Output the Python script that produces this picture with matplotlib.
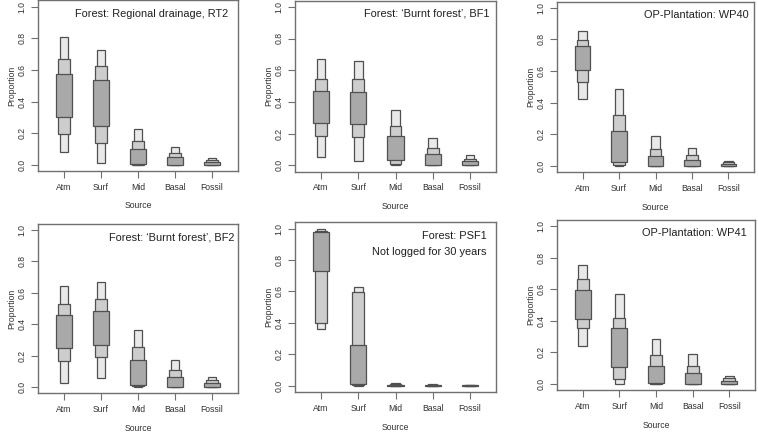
import matplotlib
matplotlib.use("Agg")
import matplotlib.pyplot as plt
import numpy as np

plt.rcParams['font.family'] = ['Liberation Sans', 'DejaVu Sans']

sources = ["Atm", "Surf", "Mid", "Basal", "Fossil"]
yticks = [0.0, 0.2, 0.4, 0.6, 0.8, 1.0]

titles = [
    ["Forest: Regional drainage, RT2"],
    ["Forest: \u2018Burnt forest\u2019, BF1"],
    ["OP-Plantation: WP40"],
    ["Forest: \u2018Burnt forest\u2019, BF2"],
    ["Forest: PSF1", "Not logged for 30 years"],
    ["OP-Plantation: WP41"],
]

# credible intervals (low, high) per source: 95%, 75%, 50%
rt2_95 = [(0.079, 0.809), (0.011, 0.726), (0.0, 0.229), (0.0, 0.115), (0.0, 0.045)]
rt2_75 = [(0.197, 0.669), (0.138, 0.624), (0.0, 0.153), (0.0, 0.072), (0.0, 0.028)]
rt2_50 = [(0.299, 0.573), (0.246, 0.535), (0.006, 0.098), (0.001, 0.047), (0.001, 0.019)]

bf1_95 = [(0.051, 0.669), (0.025, 0.660), (0.0, 0.348), (0.0, 0.174), (0.0, 0.064)]
bf1_75 = [(0.187, 0.544), (0.180, 0.546), (0.005, 0.248), (0.0, 0.110), (0.0, 0.042)]
bf1_50 = [(0.265, 0.471), (0.257, 0.459), (0.033, 0.187), (0.001, 0.068), (0.001, 0.028)]

wp40_95 = [(0.421, 0.856), (0.0, 0.488), (0.0, 0.186), (0.0, 0.112), (0.0, 0.032)]
wp40_75 = [(0.531, 0.795), (0.006, 0.319), (0.0, 0.108), (0.0, 0.066), (0.0, 0.021)]
wp40_50 = [(0.603, 0.757), (0.023, 0.218), (0.001, 0.063), (0.001, 0.038), (0.001, 0.013)]

bf2_95 = [(0.026, 0.645), (0.057, 0.670), (0.0, 0.360), (0.0, 0.170), (0.0, 0.066)]
bf2_75 = [(0.168, 0.528), (0.194, 0.560), (0.004, 0.255), (0.0, 0.111), (0.0, 0.043)]
bf2_50 = [(0.251, 0.460), (0.268, 0.481), (0.015, 0.174), (0.001, 0.066), (0.001, 0.028)]

psf1_95 = [(0.363, 0.996), (0.0, 0.626), (0.0, 0.015), (0.0, 0.008), (0.0, 0.004)]
psf1_75 = [(0.401, 0.987), (0.002, 0.594), (0.0, 0.011), (0.0, 0.005), (0.0, 0.003)]
psf1_50 = [(0.732, 0.977), (0.008, 0.259), (0.001, 0.006), (0.001, 0.003), (0.0, 0.002)]

wp41_95 = [(0.238, 0.751), (0.0, 0.570), (0.0, 0.285), (0.0, 0.192), (0.0, 0.053)]
wp41_75 = [(0.352, 0.662), (0.030, 0.420), (0.0, 0.186), (0.0, 0.116), (0.0, 0.036)]
wp41_50 = [(0.414, 0.597), (0.105, 0.354), (0.004, 0.116), (0.001, 0.072), (0.001, 0.021)]

panels = [
    (rt2_95, rt2_75, rt2_50),
    (bf1_95, bf1_75, bf1_50),
    (wp40_95, wp40_75, wp40_50),
    (bf2_95, bf2_75, bf2_50),
    (psf1_95, psf1_75, psf1_50),
    (wp41_95, wp41_75, wp41_50),
]

W, H = 758, 433
fig = plt.figure(figsize=(W / 100, H / 100), dpi=100)

# axes boxes in pixels: left, right, top, bottom
boxes = [
    (38, 238, 0.5, 171),
    (295, 496, 0.5, 171.5),
    (557, 754, 1.5, 172),
    (38, 238, 223.7, 393.3),
    (295, 496, 222.4, 392),
    (557, 755, 219.7, 390.3),
]
title_right_pad = [10, 6, 5, 4, 9, 8]

fill_cols = ["#e9e9e9", "#cdcdcd", "#a9a9a9"]
widths = [0.23, 0.32, 0.43]
edge = "#505050"
frame = "#707070"
txt = "#303030"

x = np.arange(1, len(sources) + 1)

for i, (bx, data) in enumerate(zip(boxes, panels)):
    l, r, t, b = bx
    ax = fig.add_axes([l / W, 1 - b / H, (r - l) / W, (b - t) / H])
    for lev in range(3):
        lo = np.array([d[0] for d in data[lev]])
        hi = np.array([d[1] for d in data[lev]])
        ax.bar(x, hi - lo, bottom=lo, width=widths[lev], color=fill_cols[lev],
               edgecolor=edge, linewidth=0.9, zorder=2 + lev)
    ax.set_xlim(0.3, 5.7)
    ax.set_ylim(-0.04, 1.04)
    ax.set_xticks(x)
    ax.set_xticklabels(sources)
    ax.set_yticks(yticks)
    ax.set_yticklabels([f"{v:.1f}" for v in yticks], rotation=90, va="center")
    ax.tick_params(axis="both", direction="out", length=5, width=0.8,
                   color=frame, labelsize=6.2, labelcolor=txt, pad=3.5)
    for s in ax.spines.values():
        s.set_color(frame)
        s.set_linewidth(1.0)
    # title lines
    rx = (r - title_right_pad[i] - l) / (r - l)
    for k, line in enumerate(titles[i]):
        yc = 13.5 + 15.7 * k
        ax.text(rx, 1 - yc / (b - t), line, transform=ax.transAxes,
                ha="right", va="center", fontsize=7.9, color="#202020")
    # axis labels
    fig.text((l - 26) / W, 1 - ((t + b) / 2) / H, "Proportion", rotation=90,
             ha="center", va="center", fontsize=6.2, color=txt)
    fig.text(((l + r) / 2) / W, 1 - (b + 35) / H, "Source",
             ha="center", va="center", fontsize=6.2, color=txt)

fig.savefig("out.png", dpi=100, facecolor="white")
